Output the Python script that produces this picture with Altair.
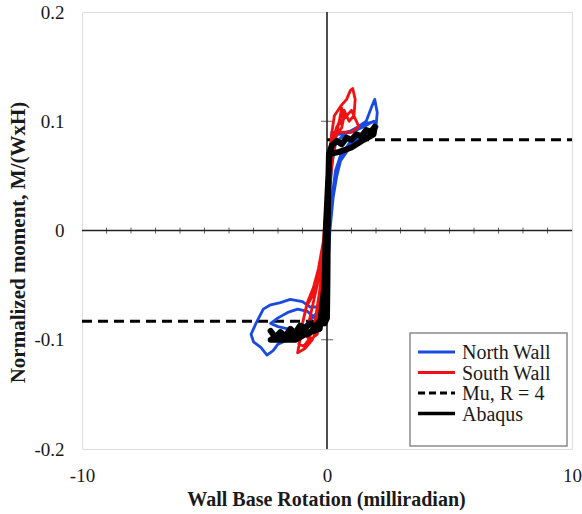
import altair as alt
import pandas as pd

SERIES = ["North Wall", "South Wall", "Mu, R = 4", "Abaqus"]
COLORS = ["#1a4be0", "#f01212", "#000000", "#000000"]
DASHES = [None, None, [10, 6], None]
WIDTHS = [3, 3, 3, 3.5]

north_x = [0.0, 0.1, 0.2, 0.35, 0.7, 1.2, 1.6, 1.8, 1.95, 2.05, 2.0, 1.7, 1.3, 0.9, 0.6, 0.4,
           0.25, 0.12, 0.05, 0.0, -0.1, -0.3, -0.7, -1.0, -1.5, -1.9, -2.3, -2.6, -2.9, -3.1,
           -3.0, -2.7, -2.45, -2.2, -2.0, -1.6, -1.4, -1.6, -2.0, -2.3, -2.0, -1.6, -1.2, -0.8,
           -0.5, -0.3, -0.1, 0.0, 0.1, 0.2, 0.35, 0.6, 1.0, 1.5, 1.9, 2.05, 1.9, 1.5, 1.0, 0.5,
           0.2, 0.1, 0.05, 0.0, -0.1, -0.4, -0.8, -1.1, -1.3, -1.0, -0.6, -0.3, -0.1, 0.05,
           0.15, 0.3, 0.5, 0.9, 1.4, 1.8, 2.0, 1.6, 1.1, 0.6, 0.3, 0.15, 0.1]
north_y = [0.0, 0.03, 0.06, 0.08, 0.088, 0.094, 0.1, 0.112, 0.12, 0.108, 0.095, 0.092, 0.086,
           0.08, 0.068, 0.05, 0.03, 0.0, -0.03, -0.05, -0.065, -0.07, -0.07, -0.065, -0.063,
           -0.066, -0.068, -0.072, -0.085, -0.095, -0.102, -0.107, -0.114, -0.11, -0.104, -0.1,
           -0.097, -0.09, -0.088, -0.085, -0.08, -0.075, -0.072, -0.074, -0.08, -0.085, -0.06,
           -0.03, 0.0, 0.03, 0.055, 0.072, 0.08, 0.086, 0.09, 0.095, 0.1, 0.095, 0.09, 0.088,
           0.09, 0.06, 0.02, -0.02, -0.05, -0.075, -0.085, -0.09, -0.1, -0.098, -0.09, -0.07,
           -0.04, -0.01, 0.02, 0.045, 0.062, 0.075, 0.082, 0.088, 0.1, 0.098, 0.092, 0.089,
           0.088, 0.07, 0.04]

south_x = [0.0, 0.05, 0.1, 0.2, 0.3, 0.45, 0.6, 0.8, 0.95, 1.05, 1.15, 1.1, 0.9, 0.7, 0.5,
           0.35, 0.2, 0.1, -0.05, -0.2, -0.4, -0.6, -0.85, -1.0, -1.1, -1.2, -0.9, -0.6, -0.4,
           -0.3, -0.2, -0.1, 0.0, 0.1, 0.2, 0.4, 0.6, 0.8, 1.0, 1.2, 1.3, 1.0, 0.5, 0.2, 0.05,
           -0.1, -0.3, -0.5, -0.7, -0.9, -0.7, -0.4, -0.2, 0.0, 0.1, 0.3, 0.5, 0.6, 0.7, 0.6,
           0.45, 0.3, 0.15, 0.0, -0.15, -0.35, -0.55, -0.8, -1.05, -1.15, -0.95, -0.75, -0.5,
           -0.3, -0.15, 0.0]
south_y = [0.0, 0.04, 0.07, 0.09, 0.105, 0.11, 0.115, 0.12, 0.128, 0.13, 0.12, 0.105, 0.1,
           0.11, 0.1, 0.09, 0.07, 0.04, 0.0, -0.03, -0.05, -0.06, -0.07, -0.085, -0.1, -0.112,
           -0.108, -0.1, -0.09, -0.07, -0.04, -0.01, 0.02, 0.06, 0.08, 0.095, 0.1, 0.105, 0.11,
           0.1, 0.095, 0.09, 0.09, 0.085, 0.05, 0.0, -0.04, -0.06, -0.08, -0.095, -0.1, -0.095,
           -0.06, -0.02, 0.04, 0.08, 0.1, 0.112, 0.105, 0.094, 0.09, 0.082, 0.06, 0.03, -0.01,
           -0.035, -0.052, -0.066, -0.09, -0.104, -0.106, -0.1, -0.085, -0.055, -0.03, 0.0]

abaqus_x = [-2.3, -2.1, -1.9, -1.7, -1.5, -1.3, -1.1, -0.9, -0.7, -0.5, -0.3, -0.1, 0.0, 0.02,
            0.03, 0.05, 0.08, 0.2, 0.4, 0.6, 0.8, 1.0, 1.2, 1.4, 1.6, 1.8, 1.95, 1.9, 1.5, 1.0,
            0.5, 0.1, -0.05, -0.1, -0.3, -0.8, -1.3, -1.8, -2.3, -2.0, -1.6, -1.2, -0.8, -0.4,
            -0.1]
abaqus_y = [-0.092, -0.098, -0.093, -0.097, -0.09, -0.094, -0.087, -0.09, -0.085, -0.088,
            -0.083, -0.085, -0.08, -0.04, 0.0, 0.04, 0.07, 0.078, 0.082, 0.079, 0.085, 0.083,
            0.088, 0.086, 0.092, 0.09, 0.095, 0.088, 0.083, 0.076, 0.072, 0.07, 0.0, -0.05,
            -0.09, -0.094, -0.1, -0.1, -0.1, -0.096, -0.099, -0.092, -0.095, -0.088, -0.084]

mu_x = [-10, 0, 0, 10]
mu_y = [-0.083, -0.083, 0.083, 0.083]
mu_seg = [0, 0, 1, 1]

x_minor = [v for v in range(-9, 10) if v != 0]
y_minor = [-0.1, 0.1]


def frame(xs, ys, name, seg=None):
    return pd.DataFrame({"x": xs, "y": ys, "i": list(range(len(xs))), "series": name,
                         "seg": seg if seg is not None else [0] * len(xs)})


FONT = "Liberation Serif"
TXT = "#1a1a1a"
xs = alt.Scale(domain=[-10, 10], nice=False, zero=False)
ys = alt.Scale(domain=[-0.2, 0.2], nice=False, zero=False)
xax = alt.Axis(values=[-10, 0, 10], grid=False, ticks=False, domain=False,
               labelExpr="'' + datum.value", labelPadding=17, labelFlush=False,
               title="Wall Base Rotation (milliradian)",
               titleX=244, titleY=50, titleBaseline="middle", titleAnchor="middle",
               titleFontSize=20)
yax = alt.Axis(values=[-0.2, -0.1, 0, 0.1, 0.2], grid=False, ticks=False, domain=False,
               labelExpr="'' + datum.value", labelPadding=18, labelFlush=False,
               title="Normalized moment, M/(WxH)", titleAngle=-90,
               titleX=-64, titleY=230, titleBaseline="middle", titleAlign="center",
               titleFontSize=21)

X = alt.X("x:Q", scale=xs, axis=xax)
Y = alt.Y("y:Q", scale=ys, axis=yax)


def line(df, color, width, dash=None):
    kw = dict(color=color, strokeWidth=width, strokeJoin="round", strokeCap="round")
    if dash:
        kw["strokeDash"] = dash
        kw["strokeCap"] = "butt"
    return alt.Chart(df).mark_line(**kw).encode(x=X, y=Y, detail="seg:N", order="i:Q")


zero_h = alt.Chart(pd.DataFrame({"y": [0]})).mark_rule(color="#222", strokeWidth=1.6).encode(y=Y)
zero_v = alt.Chart(pd.DataFrame({"x": [0]})).mark_rule(color="#222", strokeWidth=1.6).encode(x=X)
ticks_x = alt.Chart(pd.DataFrame({"x": x_minor, "y": [0] * len(x_minor)})).mark_tick(
    orient="vertical", size=6, thickness=1, color="#222").encode(x=X, y=Y)
ticks_y = alt.Chart(pd.DataFrame({"x": [0] * len(y_minor), "y": y_minor})).mark_tick(
    orient="horizontal", size=12, thickness=1, color="#222").encode(x=X, y=Y)

# manual legend (positions in plot-area pixels)
one = pd.DataFrame({"a": [0]})
LEG_X0, LEG_X1, LEG_Y0, LEG_Y1 = 328, 485, 321, 434
ROW0, ROW_STEP = 340, 20.5
legend_layers = [
    alt.Chart(one).mark_rect(fill="white", stroke="#8a8a8a", strokeWidth=1.5).encode(
        x=alt.value(LEG_X0), x2=alt.value(LEG_X1), y=alt.value(LEG_Y0), y2=alt.value(LEG_Y1))
]
for k, name in enumerate(SERIES):
    yy = ROW0 + k * ROW_STEP
    rkw = dict(color=COLORS[k], strokeWidth=WIDTHS[k])
    if DASHES[k]:
        rkw["strokeDash"] = [7, 4]
    legend_layers.append(alt.Chart(one).mark_rule(**rkw).encode(
        x=alt.value(LEG_X0 + 8), x2=alt.value(LEG_X0 + 45), y=alt.value(yy)))
    legend_layers.append(alt.Chart(one).mark_text(
        align="left", baseline="middle", font=FONT, fontSize=20, color=TXT).encode(
        x=alt.value(LEG_X0 + 52), y=alt.value(yy + 1), text=alt.value(name)))

chart = alt.layer(
    zero_h, zero_v, ticks_x, ticks_y,
    line(frame(mu_x, mu_y, SERIES[2], mu_seg), COLORS[2], 3, DASHES[2]),
    line(frame(north_x, north_y, SERIES[0]), COLORS[0], 2.8),
    line(frame(south_x, south_y, SERIES[1]), COLORS[1], 2.8),
    line(frame(abaqus_x, abaqus_y, SERIES[3]), COLORS[3], 6),
    *legend_layers,
).properties(
    width=490, height=437,
    padding={"left": 82, "top": 12, "right": 10, "bottom": 65},
    autosize=alt.AutoSizeParams(type="none"),
).configure_view(stroke="#111", strokeWidth=2.2).configure(background="white").configure_axis(
    labelFont=FONT, labelFontSize=19, labelColor=TXT,
    titleFont=FONT, titleFontWeight="bold", titleColor=TXT)

chart.save("out.html", embed_options={"renderer": "svg", "actions": False})
